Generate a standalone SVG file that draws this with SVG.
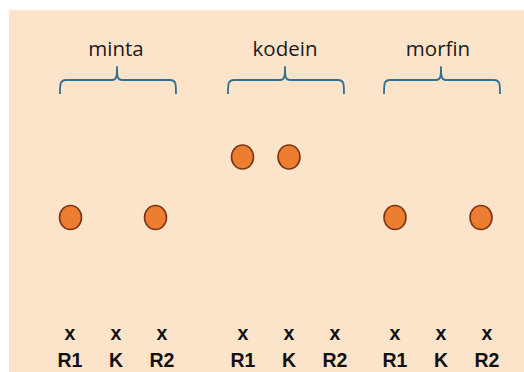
<svg xmlns="http://www.w3.org/2000/svg" width="524" height="372" viewBox="0 0 524 372">
  <style>
    .title { font-family: "Open Sans", "Liberation Sans", sans-serif; font-size: 20.5px; fill: #1a1a1a; text-anchor: middle; }
    .brace { fill: none; stroke: #2f6f8f; stroke-width: 1.8; stroke-linejoin: round; }
    .spot { fill: #ed7d31; stroke: #7a3510; stroke-width: 1.6; }
    .lane { font-family: "Liberation Sans", Arial, sans-serif; font-weight: bold; font-size: 19.5px; fill: #111; text-anchor: middle; }
  </style>
  <defs>
    <!-- curly brace spanning 116px, tip at local x=0 -->
    <path id="brace" d="M-57,94 C-57,84 -57,80 -51,80 H-5 C-1,80 0,78 0,67 C0,78 1,80 5,80 H53 C59,80 59,84 59,94"/>
  </defs>

  <!-- plate background -->
  <rect x="9" y="10" width="515" height="362" fill="#fce4cb"/>

  <!-- sample groups -->
  <g id="minta">
    <text class="title" x="116" y="56">minta</text>
    <use href="#brace" class="brace" x="117"/>
  </g>
  <g id="kodein">
    <text class="title" x="285" y="56">kodein</text>
    <use href="#brace" class="brace" x="285"/>
  </g>
  <g id="morfin">
    <text class="title" x="438" y="56">morfin</text>
    <use href="#brace" class="brace" x="441"/>
  </g>

  <!-- developed spots -->
  <g id="spots">
    <ellipse class="spot" cx="70.5" cy="217.5" rx="11" ry="12"/>
    <ellipse class="spot" cx="155.5" cy="217.5" rx="11" ry="12"/>
    <ellipse class="spot" cx="242.5" cy="157" rx="11" ry="12"/>
    <ellipse class="spot" cx="289" cy="157" rx="11" ry="12"/>
    <ellipse class="spot" cx="395" cy="217.5" rx="11" ry="12"/>
    <ellipse class="spot" cx="481" cy="217.5" rx="11" ry="12"/>
  </g>

  <!-- application points and lane labels -->
  <g id="lanes">
    <text class="lane" x="70" y="340">x</text>
    <text class="lane" x="116" y="340">x</text>
    <text class="lane" x="162" y="340">x</text>
    <text class="lane" x="243" y="340">x</text>
    <text class="lane" x="289" y="340">x</text>
    <text class="lane" x="335" y="340">x</text>
    <text class="lane" x="395" y="340">x</text>
    <text class="lane" x="441" y="340">x</text>
    <text class="lane" x="487" y="340">x</text>

    <text class="lane" x="70" y="367">R1</text>
    <text class="lane" x="116" y="367">K</text>
    <text class="lane" x="162" y="367">R2</text>
    <text class="lane" x="243" y="367">R1</text>
    <text class="lane" x="289" y="367">K</text>
    <text class="lane" x="335" y="367">R2</text>
    <text class="lane" x="395" y="367">R1</text>
    <text class="lane" x="441" y="367">K</text>
    <text class="lane" x="487" y="367">R2</text>
  </g>
</svg>
